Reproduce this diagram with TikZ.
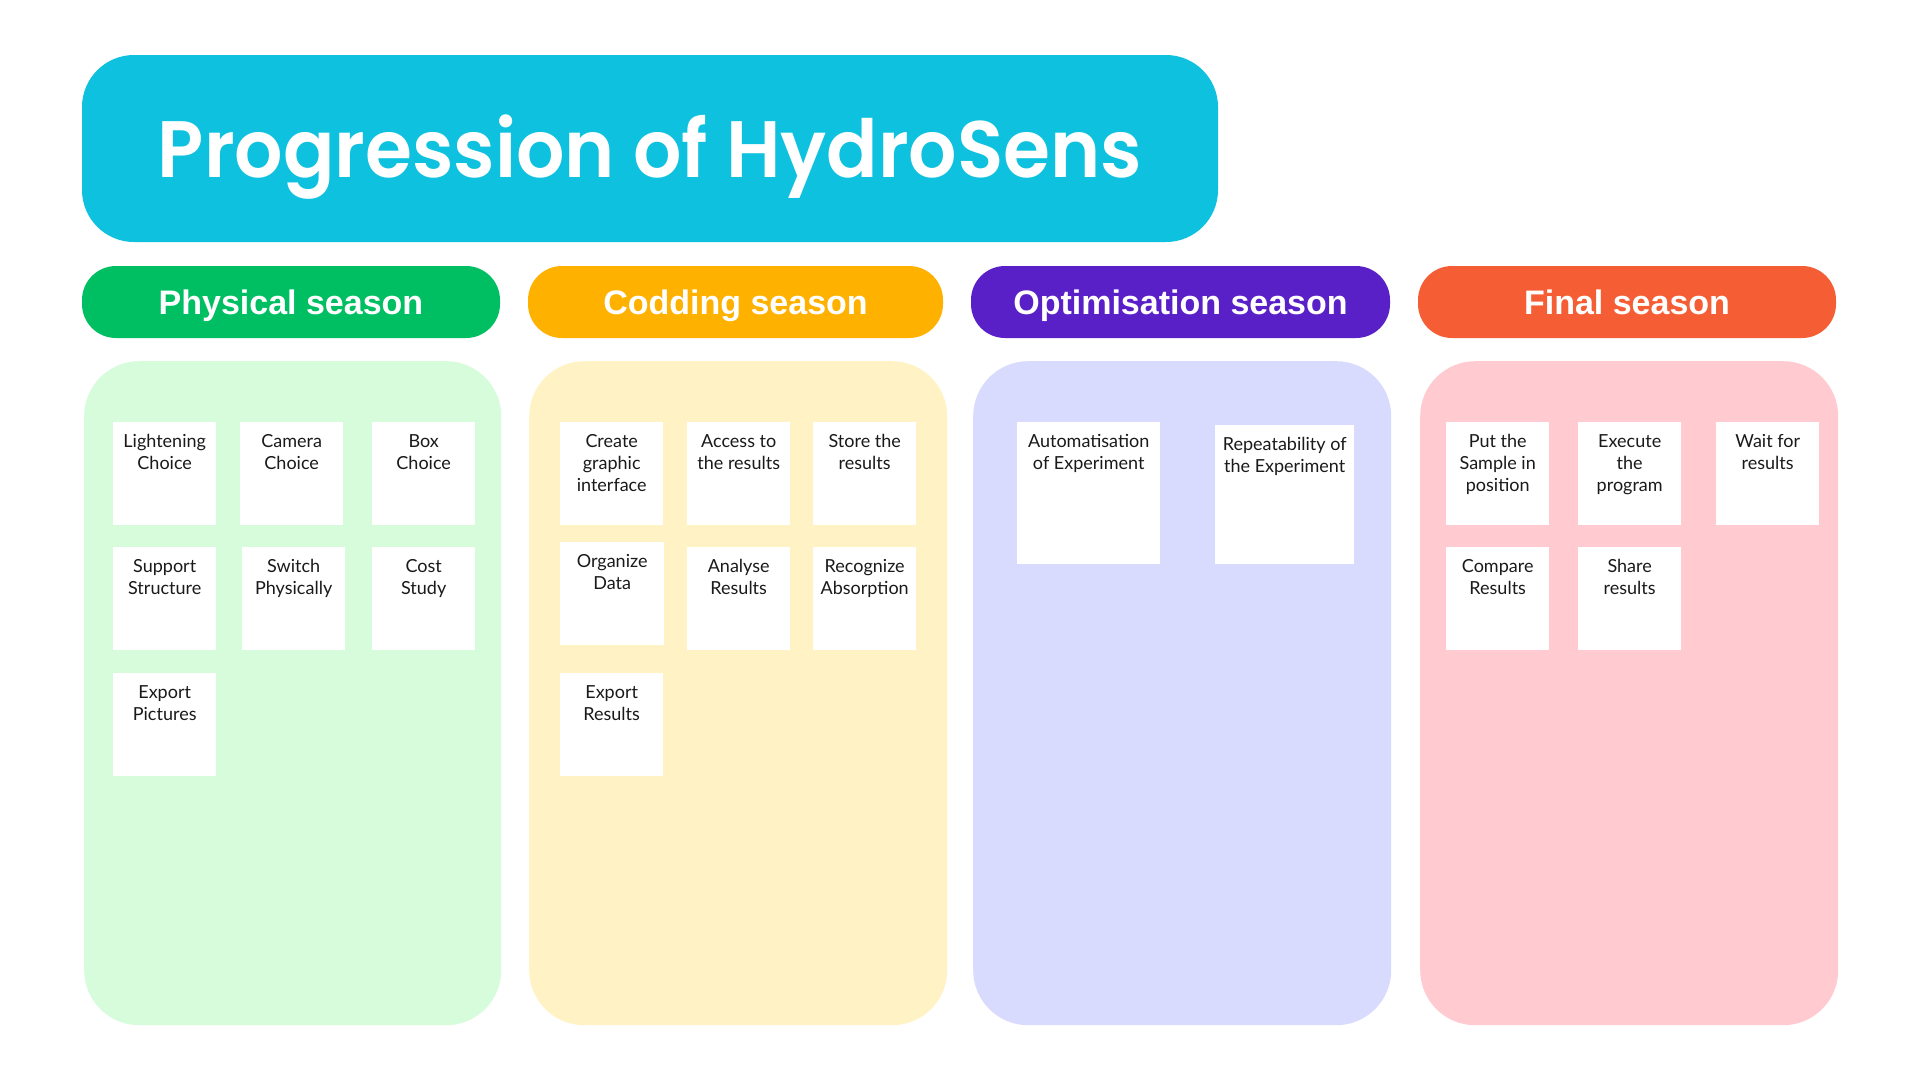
\documentclass[tikz,border=0pt]{standalone}
\usepackage{fontspec}
\setmainfont{Lato}
\newfontfamily\headfont{Liberation Sans}
\newfontfamily\titlefont{Poppins}[UprightFont={* SemiBold}, FakeStretch=0.95]
\definecolor{titlecol}{HTML}{0EC1DF}
\definecolor{physcol}{HTML}{00BF63}
\definecolor{codecol}{HTML}{FFB100}
\definecolor{optcol}{HTML}{5A20C8}
\definecolor{fincol}{HTML}{F55D34}
\definecolor{physbg}{HTML}{D6FCDB}
\definecolor{codebg}{HTML}{FFF3C5}
\definecolor{optbg}{HTML}{D8DAFE}
\definecolor{finbg}{HTML}{FFCBD1}
\definecolor{ink}{HTML}{1A1A1A}
\tikzset{
  titlebox/.style={rectangle, rounded corners=52pt, fill=titlecol, inner sep=0pt,
    text=white, text height=57pt, text depth=0pt,
    font=\titlefont\fontsize{80}{90}\selectfont},
  seasonbox/.style={rectangle, rounded corners=34pt, fill=#1, inner sep=0pt,
    minimum height=72pt, text height=24.5pt, text depth=0pt,
    text=white, font=\headfont\bfseries\fontsize{34}{40}\selectfont},
  panelbox/.style={rectangle, rounded corners=55pt, fill=#1, inner sep=0pt, anchor=north west},
  stickybox/.style={rectangle, fill=white, inner sep=0pt, anchor=north west},
  notetext/.style={align=center, inner sep=0pt, text=ink,
    font=\fontsize{18}{22}\selectfont, anchor=north},
}
% sticky note: name, left, top, width, height, text
\newcommand\note[6]{%
  \node[stickybox, minimum width=#4pt, minimum height=#5pt] (#1) at (#2,#3) {};
  \node[notetext] (#1t) at ([yshift=-12pt]#1.north) {#6};}
\begin{document}
\begin{tikzpicture}[x=1pt,y=-1pt]
\useasboundingbox[fill=white] (0,0) rectangle (1920,1080);

% title banner
\node[titlebox, minimum width=1136pt, minimum height=187pt] (title) at (650,148.5)
  {Progression of HydroSens};

% season headers
\node[seasonbox=physcol, minimum width=418pt] (hphys) at (291,302) {Physical season};
\node[seasonbox=codecol, minimum width=415pt] (hcode) at (735.5,302) {Codding season};
\node[seasonbox=optcol,  minimum width=419pt] (hopt)  at (1180.5,302) {Optimisation season};
\node[seasonbox=fincol,  minimum width=418pt] (hfin)  at (1627,302) {Final season};

% columns
\node[panelbox=physbg, minimum width=417pt, minimum height=664pt] (pphys) at (84,361) {};
\node[panelbox=codebg, minimum width=418pt, minimum height=664pt] (pcode) at (529,361) {};
\node[panelbox=optbg,  minimum width=418pt, minimum height=664pt] (popt)  at (973,361) {};
\node[panelbox=finbg,  minimum width=418pt, minimum height=664pt] (pfin)  at (1420,361) {};

% physical season
\note{n11}{113}{422}{103}{103}{Lightening\\Choice}
\note{n12}{240}{422}{103}{103}{Camera\\Choice}
\note{n13}{372}{422}{103}{103}{Box\\Choice}
\note{n14}{113}{547}{103}{103}{Support\\Structure}
\note{n15}{242}{547}{103}{103}{Switch\\Physically}
\note{n16}{372}{547}{103}{103}{Cost\\Study}
\note{n17}{113}{673}{103}{103}{Export\\Pictures}

% codding season
\note{n21}{560}{422}{103}{103}{Create\\graphic\\interface}
\note{n22}{687}{422}{103}{103}{Access to\\the results}
\note{n23}{813}{422}{103}{103}{Store the\\results}
\note{n24}{560}{542}{104}{103}{Organize\\Data}
\note{n25}{687}{547}{103}{103}{Analyse\\Results}
\note{n26}{813}{547}{103}{103}{Recognize\\Absorption}
\note{n27}{560}{673}{103}{103}{Export\\Results}

% optimisation season
\note{n31}{1017}{422}{143}{142}{Automatisation\\of Experiment}
\note{n32}{1215}{425}{139}{139}{Repeatability of\\the Experiment}

% final season
\note{n41}{1446}{422}{103}{103}{Put the\\Sample in\\position}
\note{n42}{1578}{422}{103}{103}{Execute\\the\\program}
\note{n43}{1716}{422}{103}{103}{Wait for\\results}
\note{n44}{1446}{547}{103}{103}{Compare\\Results}
\note{n45}{1578}{547}{103}{103}{Share\\results}
\end{tikzpicture}
\end{document}
